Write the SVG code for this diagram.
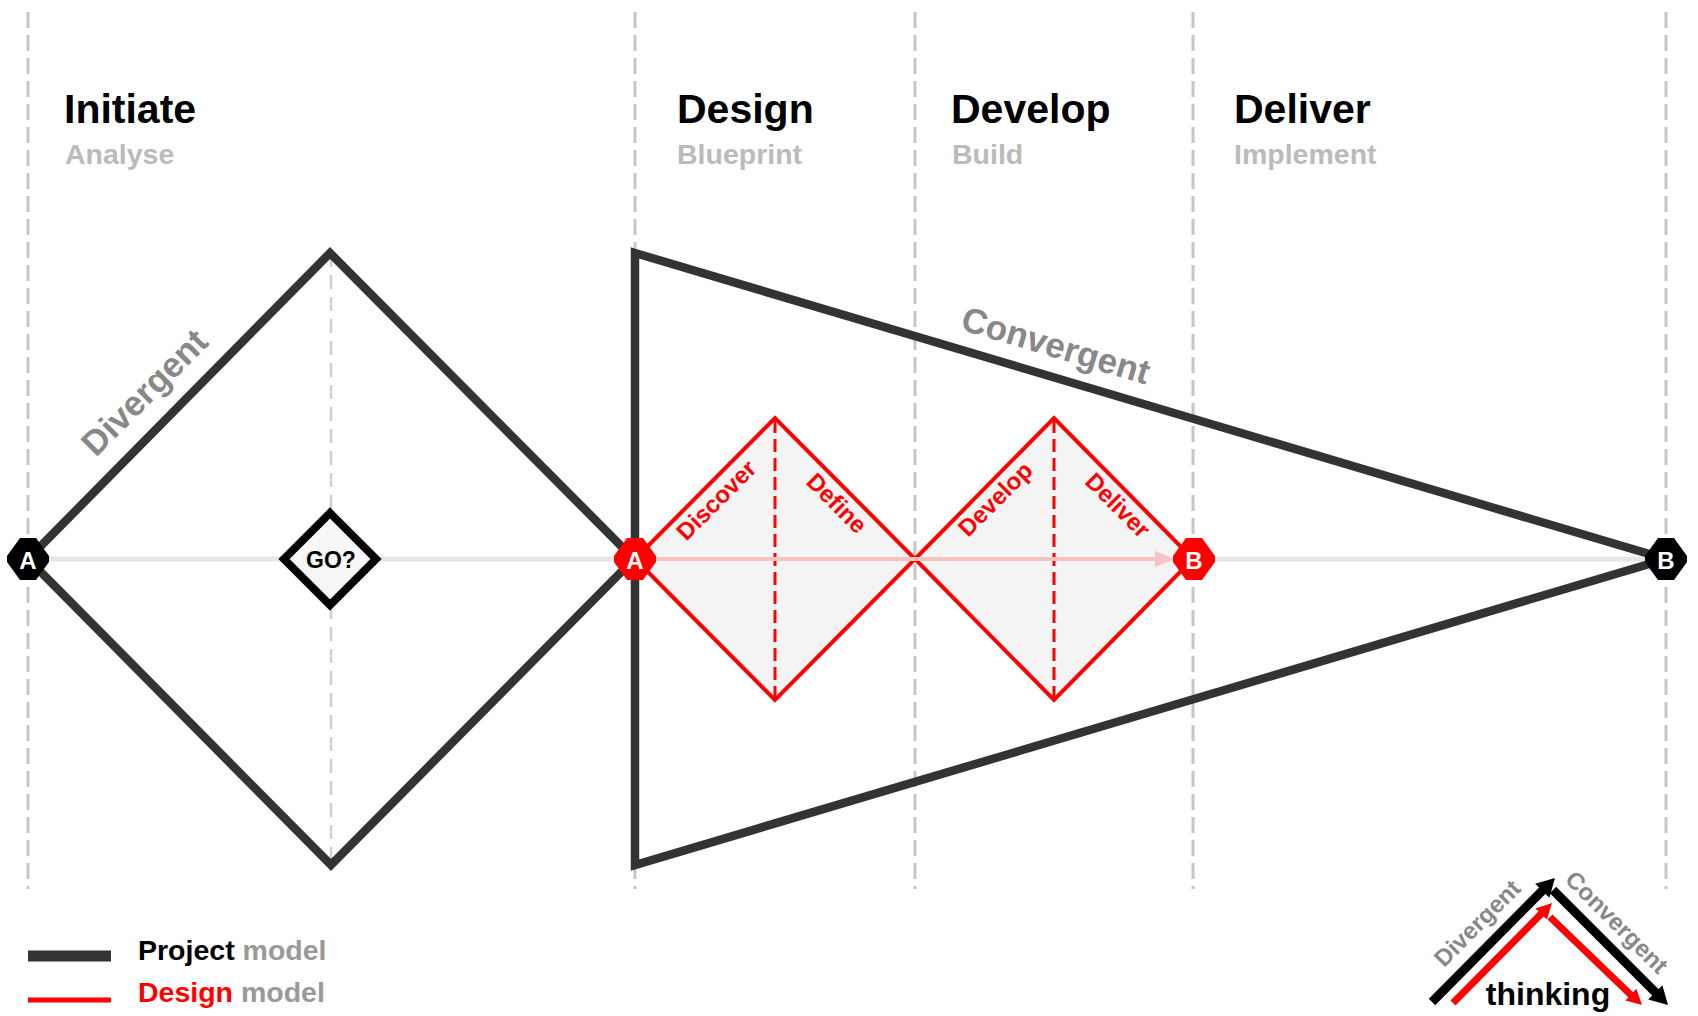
<svg xmlns="http://www.w3.org/2000/svg" xmlns:xlink="http://www.w3.org/1999/xlink" width="1698" height="1016" viewBox="0 0 1698 1016">
<style>
text{font-family:"Liberation Sans",Arial,Helvetica,sans-serif;font-weight:bold}
.phase{stroke:#c6c6c6;stroke-width:3;stroke-dasharray:16 7;fill:none}
.proj{stroke:#333;stroke-width:8.5;fill:none;stroke-linejoin:miter}
.des{stroke:#ff0000;stroke-width:4;fill:#f4f4f4;stroke-linejoin:miter}
.rdash{stroke:#ff0000;stroke-width:3;stroke-dasharray:13 6;fill:none}
.title{font-size:41px;fill:#000}
.sub{font-size:28.5px;fill:#bbb}
.lab{font-size:35px;fill:#888}
.rlab{font-size:24px;fill:#ff0000}
.nodet{font-size:24px;fill:#fff}
</style>
<defs>
<polygon id="oct" points="-21,-3 -8,-21 8,-21 21,-3 21,3 8,21 -8,21 -21,3"/>
</defs>
<rect x="0" y="0" width="1698" height="1016" fill="#fff"/>
<g id="phase-lines">
<line class="phase" x1="28" y1="12" x2="28" y2="889"/>
<line class="phase" x1="635" y1="12" x2="635" y2="889"/>
<line class="phase" x1="915" y1="12" x2="915" y2="889"/>
<line class="phase" x1="1193" y1="12" x2="1193" y2="889"/>
<line class="phase" x1="1666" y1="12" x2="1666" y2="889"/>
</g>
<g id="titles">
<text class="title" x="64" y="123">Initiate</text>
<text class="sub" x="65" y="164">Analyse</text>
<text class="title" x="677" y="123">Design</text>
<text class="sub" x="677" y="164">Blueprint</text>
<text class="title" x="951" y="123">Develop</text>
<text class="sub" x="952" y="164">Build</text>
<text class="title" x="1234" y="123">Deliver</text>
<text class="sub" x="1234" y="164">Implement</text>
</g>
<g id="connectors">
<line x1="28" y1="559" x2="1666" y2="559" stroke="#e6e6e6" stroke-width="5"/>
<line x1="331" y1="253" x2="331" y2="865" stroke="#cfcfcf" stroke-width="2.5" stroke-dasharray="14 8"/>
</g>
<g id="initiate-diamond">
<polygon class="proj" points="28,559 330,253 634,559 331,865"/>
<text class="lab" transform="translate(144,392) rotate(-45)" text-anchor="middle" dominant-baseline="central">Divergent</text>
</g>
<g id="convergent-triangle">
<polygon class="proj" points="635,253 1666,559 635,865"/>
<text class="lab" transform="translate(1056,345) rotate(16.5)" text-anchor="middle" dominant-baseline="central">Convergent</text>
</g>
<g id="design-diamond-1">
<polygon class="des" points="635,559 775,418 915,559 775,700"/>
<line class="rdash" x1="775" y1="420" x2="775" y2="698"/>
<text class="rlab" transform="translate(716,500) rotate(-45)" text-anchor="middle" dominant-baseline="central">Discover</text>
<text class="rlab" transform="translate(837,503) rotate(45)" text-anchor="middle" dominant-baseline="central">Define</text>
</g>
<g id="design-diamond-2">
<polygon class="des" points="915,559 1054,418 1193,559 1054,700"/>
<line class="rdash" x1="1054" y1="420" x2="1054" y2="698"/>
<text class="rlab" transform="translate(995,499) rotate(-45)" text-anchor="middle" dominant-baseline="central">Develop</text>
<text class="rlab" transform="translate(1118,505) rotate(45)" text-anchor="middle" dominant-baseline="central">Deliver</text>
</g>
<g id="design-flow">
<line x1="640" y1="559" x2="1158" y2="559" stroke="#f6c2c2" stroke-width="4"/>
<polygon points="1175,559 1155,551 1155,567" fill="#f6c2c2"/>
</g>
<g id="go-decision">
<polygon points="330,513 376,559 330,605 284,559" fill="#f7f7f7" stroke="#000" stroke-width="8" stroke-linejoin="miter"/>
<text x="331" y="560" font-size="23" fill="#000" text-anchor="middle" dominant-baseline="central">GO?</text>
</g>
<g id="node-A-start">
<use xlink:href="#oct" x="28" y="559" fill="#000"/>
<text class="nodet" x="28" y="560" text-anchor="middle" dominant-baseline="central">A</text>
</g>
<g id="node-A-design">
<use xlink:href="#oct" x="635" y="559" fill="#ff0000"/>
<text class="nodet" x="635" y="560" text-anchor="middle" dominant-baseline="central">A</text>
</g>
<g id="node-B-design">
<use xlink:href="#oct" x="1194" y="559" fill="#ff0000"/>
<text class="nodet" x="1194" y="560" text-anchor="middle" dominant-baseline="central">B</text>
</g>
<g id="node-B-end">
<use xlink:href="#oct" x="1666" y="559" fill="#000"/>
<text class="nodet" x="1666" y="560" text-anchor="middle" dominant-baseline="central">B</text>
</g>
<g id="legend">
<line x1="28" y1="956" x2="111" y2="956" stroke="#333" stroke-width="11"/>
<line x1="28" y1="1000" x2="111" y2="1000" stroke="#ff0000" stroke-width="5"/>
<text x="138" y="960" font-size="28.5" fill="#000">Project <tspan fill="#999">model</tspan></text>
<text x="138" y="1002" font-size="28.5" fill="#ff0000">Design <tspan fill="#999">model</tspan></text>
</g>
<g id="thinking-icon">
<line x1="1432" y1="1002" x2="1543" y2="890" stroke="#000" stroke-width="9"/>
<polygon points="1555,878 1549.4,897.8 1535.2,883.8" fill="#000"/>
<line x1="1553" y1="890" x2="1656" y2="993" stroke="#000" stroke-width="9"/>
<polygon points="1668,1005 1662.4,985.2 1648.2,999.4" fill="#000"/>
<line x1="1453" y1="1003" x2="1542" y2="913" stroke="#ff0000" stroke-width="7"/>
<polygon points="1552,903 1546.9,919.6 1535.5,908.4" fill="#ff0000"/>
<line x1="1550" y1="917" x2="1632" y2="996" stroke="#ff0000" stroke-width="7"/>
<polygon points="1642,1005 1636.4,988.8 1625.4,1000.4" fill="#ff0000"/>
<text transform="translate(1477,923) rotate(-45)" font-size="24" fill="#888" text-anchor="middle" dominant-baseline="central">Divergent</text>
<text transform="translate(1617,922) rotate(45)" font-size="24" fill="#888" text-anchor="middle" dominant-baseline="central">Convergent</text>
<text x="1548" y="1005" font-size="32" fill="#000" text-anchor="middle">thinking</text>
</g>
</svg>
